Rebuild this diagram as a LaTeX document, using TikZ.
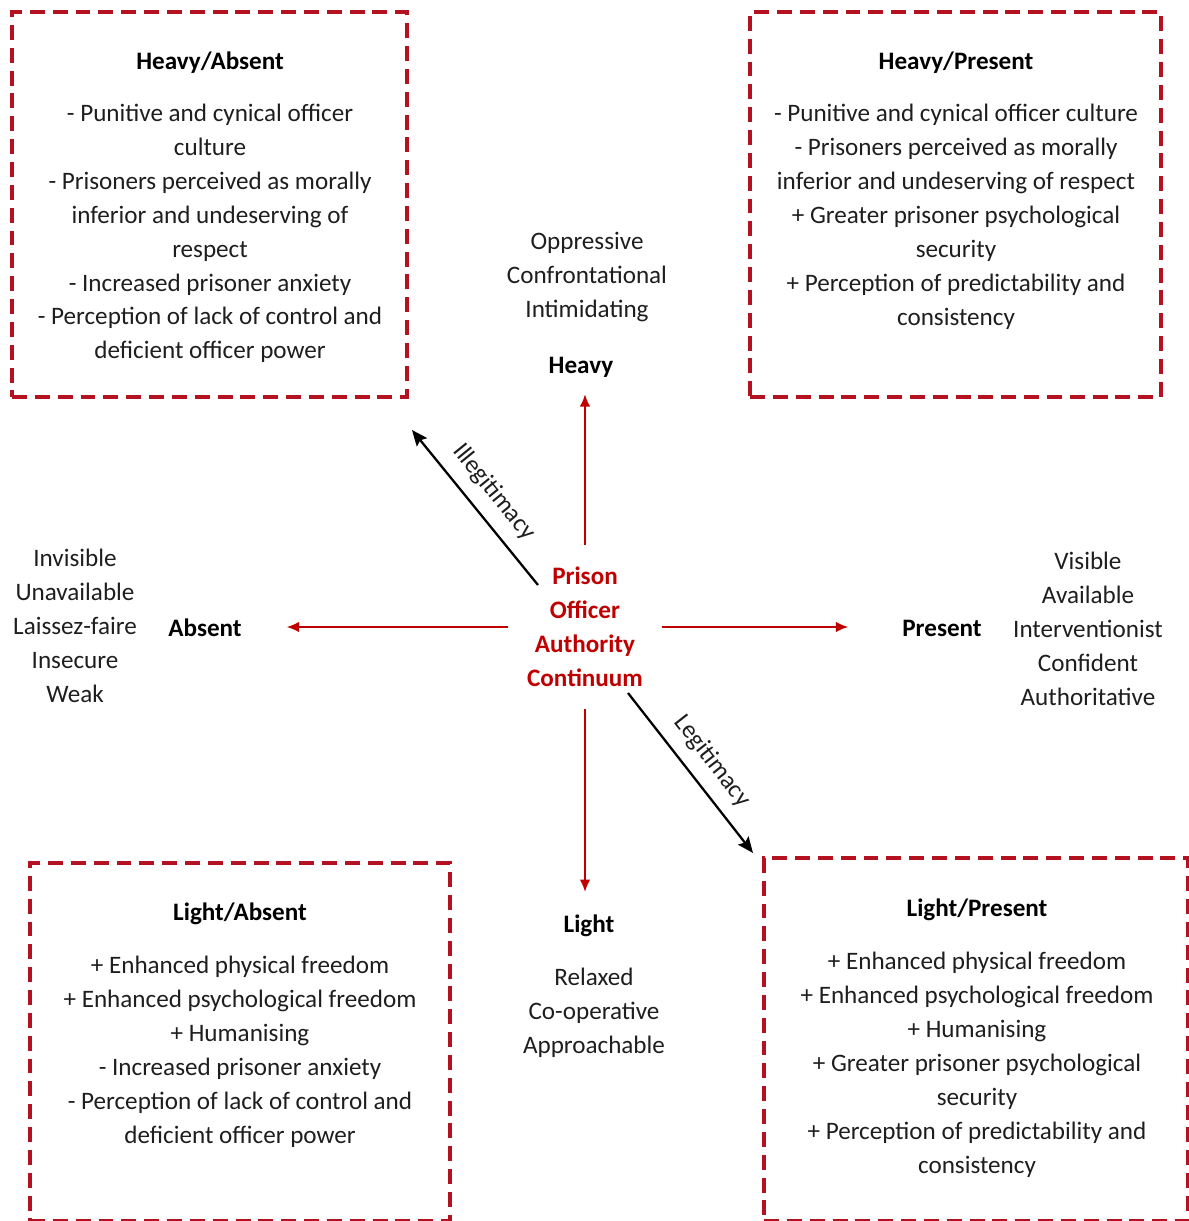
\documentclass[tikz,border=0pt]{standalone}
\usepackage{fontspec}
\setmainfont{Carlito}
\usepackage{tikz}
\usetikzlibrary{arrows, arrows.meta, positioning, calc}
\definecolor{boxred}{RGB}{180,18,32}
\definecolor{axisred}{RGB}{192,0,0}
\definecolor{inkgray}{RGB}{30,30,30}

\begin{document}
\begin{tikzpicture}[
    x=0.02cm, y=-0.02cm,
    font=\fontsize{14.3pt}{19.3pt}\selectfont,
    every node/.style={text=inkgray},
    quadrant/.style={
        rectangle,
        draw=boxred,
        line width=2.3pt,
        dash pattern=on 8.5pt off 4.5pt,
        inner sep=0pt
    },
    heading/.style={font=\fontsize{14.3pt}{19.3pt}\selectfont\bfseries, text=black},
    bodytext/.style={align=center},
    axis/.style={-{Latex[length=7pt, width=6pt]}, draw=axisred, line width=0.9pt},
    legit/.style={-{Stealth[length=9pt, width=7.5pt, inset=1.5pt]}, draw=black, line width=1.3pt}
 % arrow styles
]
    \useasboundingbox (0,0) rectangle (1188,1221);

    % centre
    \node[minimum width=3.08cm, minimum height=3.26cm, align=center,
          text=axisred, font=\fontsize{14.3pt}{19.3pt}\selectfont\bfseries]
        (auth) at (585,627) {Prison\\Officer\\Authority\\Continuum};

    % the four poles
    \node[heading] (heavy) at (581,367) {Heavy};
    \node[heading] (light) at (589,926) {Light};
    \node[heading] (absent) at (205,628) {Absent};
    \node[heading] (present) at (942,628) {Present};

    \node[bodytext] (heavywords) at (587,277) {Oppressive\\Confrontational\\Intimidating};
    \node[bodytext] (lightwords) at (594,1013) {Relaxed\\Co-operative\\Approachable};
    \node[bodytext] (absentwords) at (75,626) {Invisible\\Unavailable\\Laissez-faire\\Insecure\\Weak};
    \node[bodytext] (presentwords) at (1088,629) {Visible\\Available\\Interventionist\\Confident\\Authoritative};

    % quadrant boxes
    \node[quadrant, minimum width=7.9cm, minimum height=7.7cm] (habox) at (209.5,204.5) {};
    \node[quadrant, minimum width=8.22cm, minimum height=7.7cm] (hpbox) at (955.5,204.5) {};
    \node[quadrant, minimum width=8.4cm, minimum height=7.16cm] (labox) at (240,1042) {};
    \node[quadrant, minimum width=8.48cm, minimum height=7.26cm] (lpbox) at (976,1039.5) {};

    \node[heading] (hatitle) at (210,63) {Heavy/Absent};
    \node[bodytext] (habody) at (210,233.5) {- Punitive and cynical officer\\culture\\- Prisoners perceived as morally\\inferior and undeserving of\\respect\\- Increased prisoner anxiety\\- Perception of lack of control and\\deficient officer power};

    \node[heading] (hptitle) at (956,63) {Heavy/Present};
    \node[bodytext] (hpbody) at (956,217) {- Punitive and cynical officer culture\\- Prisoners perceived as morally\\inferior and undeserving of respect\\+ Greater prisoner psychological\\security\\+ Perception of predictability and\\consistency};

    \node[heading] (latitle) at (240,914) {Light/Absent};
    \node[bodytext] (labody) at (240,1052) {+ Enhanced physical freedom\\+ Enhanced psychological freedom\\+ Humanising\\- Increased prisoner anxiety\\- Perception of lack of control and\\deficient officer power};

    \node[heading] (lptitle) at (977,910) {Light/Present};
    \node[bodytext] (lpbody) at (977,1065) {+ Enhanced physical freedom\\+ Enhanced psychological freedom\\+ Humanising\\+ Greater prisoner psychological\\security\\+ Perception of predictability and\\consistency};

    % axes
    \draw[axis, shorten >=0.22cm] (auth.north) -- (auth.north |- heavy.south);
    \draw[axis, shorten >=0.34cm] (auth.south) -- (auth.south |- light.north);
    \draw[axis, shorten >=0.78cm] (auth.west) -- (auth.west -| absent.east);
    \draw[axis, shorten >=0.96cm] (auth.east) -- (auth.east -| present.west);

    % legitimacy diagonal
    \draw[legit] ($(auth.center)+(-47,-42)$) -- ($(habox.south east)+(3,31)$)
        node[midway, sloped, above=7pt, inner sep=0pt] {Illegitimacy};
    \draw[legit] ($(auth.center)+(43,66)$) -- ($(lpbox.north west)+(-9,-3)$)
        node[pos=0.52, sloped, above=7pt, inner sep=0pt] {Legitimacy};

\end{tikzpicture}
\end{document}
